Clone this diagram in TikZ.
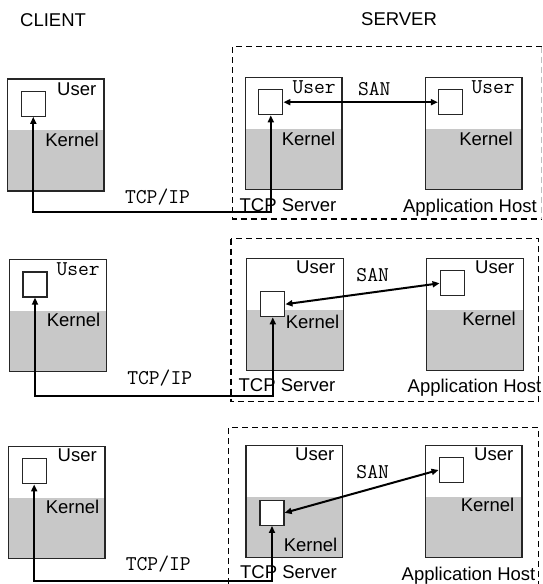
\documentclass[tikz,border=0pt]{standalone}
\usepackage{fontspec}
\setmainfont{Liberation Sans}
\usetikzlibrary{arrows.meta}
\definecolor{kernelgray}{RGB}{200,200,200}

\begin{document}
\begin{tikzpicture}[
  x=1pt, y=-1pt,
  font=\fontsize{18.5}{22}\selectfont,
  host/.style={draw=black!85, line width=1.3pt, rectangle, inner sep=0pt,
    minimum width=96.5pt, minimum height=112pt,
    path picture={\fill[kernelgray] (path picture bounding box.south west)
      rectangle ([yshift=61pt]path picture bounding box.south east);}},
  proc/.style={draw=black!85, fill=white, line width=1.3pt, rectangle,
    inner sep=0pt, minimum width=24pt, minimum height=25pt},
  link/.style={{Triangle[length=7pt,width=6pt]}-{Triangle[length=7pt,width=6pt]},
    line width=2pt},
  area/.style={dash pattern=on 6pt off 4pt, line width=1.1pt},
  lbl/.style={inner sep=0pt},
  code/.style={inner sep=0pt, font=\fontsize{21}{24}\selectfont\ttfamily}
]
\useasboundingbox (0,0) rectangle (543,584);

% Titles
\node[lbl, anchor=base west] (client) at (20,26.7) {CLIENT};
\node[lbl, anchor=base west] (server) at (361,25) {SERVER};

% Server areas
\draw[area] (541.7,46.7) -| (232.3,219) -- (541.7,219);
\draw[area, black!25] (541.7,46.7) -- (541.7,219);
\draw[area] (231,238.6) rectangle (538.3,401.7);
\draw[area] (228.7,584) |- (538.3,427.3) -- (538.3,584);

% Row 1
\node[host] (c1) at (55.8,135) {};
\node[host] (s1) at (293.7,133.8) {};
\node[host] (a1) at (473.7,133.8) {};
\node[proc] (c1u) at (33.3,103.7) {};
\node[proc] (s1u) at (270.8,102.2) {};
\node[proc] (a1u) at (450.5,102.2) {};
\node[lbl, anchor=base east] (c1user) at (96.5,95) {User};
\node[lbl, anchor=base east] (c1kern) at (99,146.7) {Kernel};
\node[code, anchor=base east] (s1user) at (336,93.3) {User};
\node[lbl, anchor=base east] (s1kern) at (335.5,145) {Kernel};
\node[code, anchor=base east] (a1user) at (515,93.3) {User};
\node[lbl, anchor=base east] (a1kern) at (513,145) {Kernel};
\node[code, anchor=base] (san1) at (374.3,95) {SAN};
\node[code, anchor=base] (tcp1) at (157.5,203) {TCP/IP};
\node[lbl, anchor=base east] (s1name) at (336.5,211.5) {TCP Server};
\node[lbl, anchor=base east] (a1name) at (537,212) {Application Host};
\coordinate (bend1) at (0,212.3);
\draw[link] (c1u.south) -- (c1u.south |- bend1) -| (s1u.south);
\draw[link] (s1u.east) -- (a1u.west);

% Row 2
\node[host] (c2) at (58,315.5) {};
\node[host] (s2) at (295,314.5) {};
\node[host] (a2) at (475,314.5) {};
\node[proc] (c2u) at (35,284.5) {};
\node[proc] (s2u) at (272.8,304.2) {};
\node[proc] (a2u) at (452.2,283.3) {};
\node[code, anchor=base east] (c2user) at (100,275) {User};
\node[lbl, anchor=base east] (c2kern) at (100.5,326.7) {Kernel};
\node[lbl, anchor=base east] (s2user) at (335.5,273.3) {User};
\node[lbl, anchor=base east] (s2kern) at (339.5,328.3) {Kernel};
\node[lbl, anchor=base east] (a2user) at (514.5,273.3) {User};
\node[lbl, anchor=base east] (a2kern) at (516,325) {Kernel};
\node[code, anchor=base] (san2) at (372.7,281.7) {SAN};
\node[code, anchor=base] (tcp2) at (159.7,384) {TCP/IP};
\node[lbl, anchor=base east] (s2name) at (335.5,391.7) {TCP Server};
\node[lbl, anchor=base west] (a2name) at (407.5,392) {Application Host};
\coordinate (bend2) at (0,396);
\draw[link] (c2u.south) -- (c2u.south |- bend2) -| (s2u.south);
\draw[link] (s2u.east) -- (a2u.west);

% Row 3
\node[host] (c3) at (56.7,502.8) {};
\node[host] (s3) at (294.3,501.5) {};
\node[host] (a3) at (473.8,501.5) {};
\node[proc] (c3u) at (34.2,471.3) {};
\node[proc] (s3u) at (272,512.8) {};
\node[proc] (a3u) at (451.2,470) {};
\node[lbl, anchor=base east] (c3user) at (97,461.7) {User};
\node[lbl, anchor=base east] (c3kern) at (99.5,513.3) {Kernel};
\node[lbl, anchor=base east] (s3user) at (334.5,460) {User};
\node[lbl, anchor=base east] (s3kern) at (337.5,551.7) {Kernel};
\node[lbl, anchor=base east] (a3user) at (513.5,460) {User};
\node[lbl, anchor=base east] (a3kern) at (514.5,511.7) {Kernel};
\node[code, anchor=base] (san3) at (372.7,478.3) {SAN};
\node[code, anchor=base] (tcp3) at (158.3,570) {TCP/IP};
\node[lbl, anchor=base east] (s3name) at (337,578.3) {TCP Server};
\node[lbl, anchor=base west] (a3name) at (401.5,580) {Application Host};
\coordinate (bend3) at (0,581);
\draw[link] (c3u.south) -- (c3u.south |- bend3) -| (s3u.south);
\draw[link] (s3u.east) -- (a3u.west);

\end{tikzpicture}
\end{document}
